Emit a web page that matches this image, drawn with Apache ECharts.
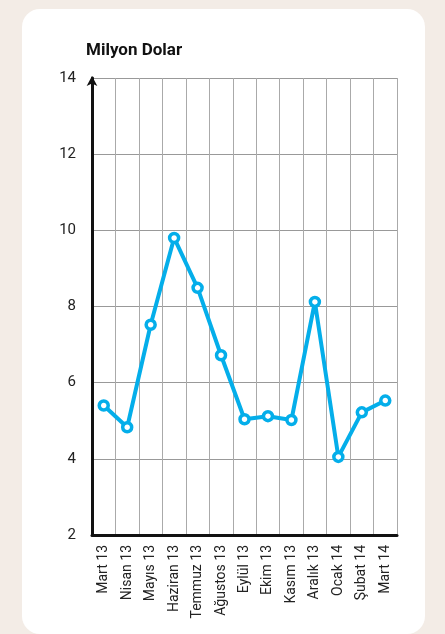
<!DOCTYPE html>
<html>
<head>
<meta charset="utf-8">
<script src="https://cdn.jsdelivr.net/npm/echarts@6/dist/echarts.min.js"></script>
<style>
html,body{margin:0;padding:0;background:#f3ece6;}
#c{width:445px;height:634px;}
</style>
</head>
<body>
<div id="c"></div>
<script>
var categories = ['Mart 13','Nisan 13','Mayıs 13','Haziran 13','Temmuz 13','Ağustos 13','Eylül 13','Ekim 13','Kasım 13','Aralık 13','Ocak 14','Şubat 14','Mart 14'];
var values = [5.4, 4.83, 7.52, 9.8, 8.49, 6.72, 5.04, 5.12, 5.02, 8.12, 4.05, 5.22, 5.53];
var yTicks = [2, 4, 6, 8, 10, 12, 14];
var titleText = 'Milyon Dolar';
var labelFont = "'Roboto', sans-serif";

var chart = echarts.init(document.getElementById('c'));
chart.setOption({
  backgroundColor: '#f3ece6',
  animation: false,
  graphic: [{
    type: 'rect', z: -10, silent: true,
    shape: { x: 22, y: 9, width: 403, height: 625, r: 18 },
    style: { fill: '#ffffff' }
  }],
  title: {
    text: titleText, left: 81, top: 37,
    textStyle: { fontFamily: 'Roboto', fontWeight: 'bold', fontSize: 17, color: '#111' }
  },
  grid: { left: 92, right: 48, top: 78, bottom: 99, containLabel: false },
  xAxis: {
    type: 'category', data: categories, boundaryGap: true,
    axisLine: { show: true, lineStyle: { color: '#111', width: 3 } },
    axisTick: { show: false },
    axisLabel: { rotate: 90, margin: 10, fontFamily: labelFont, fontSize: 14, color: '#222', interval: 0 },
    splitLine: { show: true, interval: 0, lineStyle: { color: '#aaaaaa', width: 1 } }
  },
  yAxis: {
    type: 'value', min: yTicks[0], max: yTicks[yTicks.length - 1], interval: 2,
    axisLine: { show: true, symbol: ['none', 'arrow'], symbolSize: [8, 10], symbolOffset: [0, 2], lineStyle: { color: '#111', width: 3 } },
    axisTick: { show: false },
    axisLabel: { margin: 16, fontFamily: labelFont, fontSize: 15, color: '#222' },
    splitLine: { show: true, lineStyle: { color: '#999999', width: 1 } }
  },
  series: [{
    type: 'line', data: values,
    lineStyle: { color: '#04aeea', width: 4 },
    symbol: 'circle', symbolSize: 9,
    itemStyle: { color: '#ffffff', borderColor: '#04aeea', borderWidth: 3.5 }
  }]
});
</script>
</body>
</html>
